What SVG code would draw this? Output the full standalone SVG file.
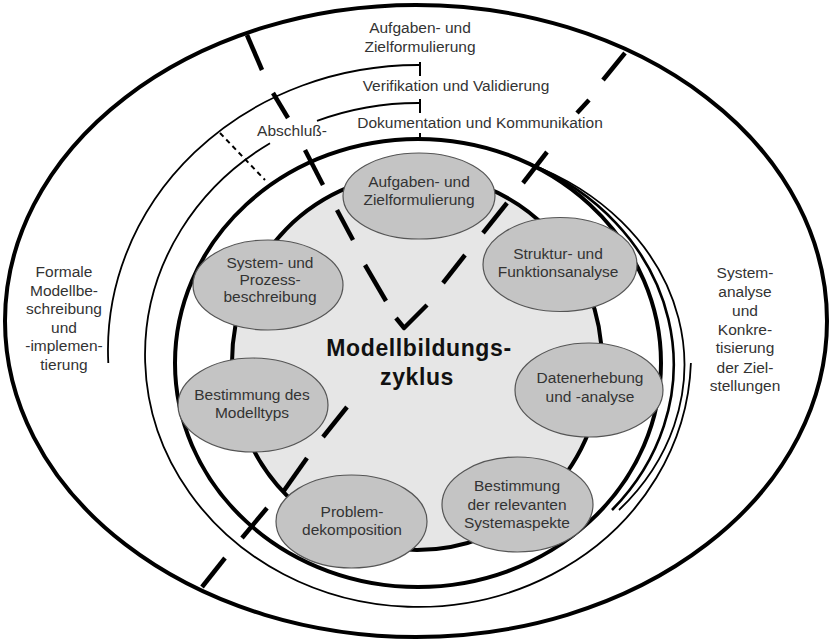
<svg xmlns="http://www.w3.org/2000/svg" width="830" height="642" viewBox="0 0 830 642">
<style>
text { font-family: "Liberation Sans", Arial, sans-serif; fill: #333; }
.lbl { font-size: 15.5px; text-anchor: middle; }
.title { font-size: 23px; font-weight: bold; fill: #111; text-anchor: middle; letter-spacing: 0.6px; }
.node ellipse { fill: #c4c4c4; stroke: #555; stroke-width: 1.2; }
.ring { fill: none; stroke: #000; }
.thick { stroke-width: 4; }
.mid { stroke-width: 2.6; }
.thin { stroke-width: 1.8; }
.tick { stroke: #000; stroke-width: 2; }
.dash { stroke: #000; stroke-width: 4.5; }
</style>
<rect width="830" height="642" fill="#fff"/>

<!-- rings around the cycle -->
<g id="rings">
  <ellipse class="ring thick" cx="416" cy="321" rx="411" ry="316"/>
  <!-- Verifikation und Validierung -->
  <path class="ring thin" d="M420 65 A310 285 0 0 0 108.3 363"/>
  <line class="tick" x1="420" y1="62" x2="420" y2="76"/>
  <!-- Dokumentation und Kommunikation / Abschluss -->
  <path class="ring thin" d="M420 103 A273 252 0 0 0 317 120.9"/>
  <path class="ring thin" d="M270 143.2 A273 252 0 1 0 690.9 363"/>
  <line class="tick" x1="420" y1="99" x2="420" y2="113"/>
  <line x1="220" y1="133" x2="265" y2="180" stroke="#000" stroke-width="2" stroke-dasharray="5 4"/>
  <!-- inner ring -->
  <ellipse class="ring thick" cx="418" cy="363" rx="243" ry="224"/>
  <path class="ring mid" d="M530 164 A252 222 0 0 1 612 510"/>
  <path class="ring thin" d="M530 164 A262 220 0 0 1 619 510"/>
  <line class="tick" x1="420" y1="133" x2="420" y2="140"/>
  <!-- core -->
  <ellipse cx="417" cy="362" rx="185" ry="188" fill="#e6e6e6" stroke="#000" stroke-width="4"/>
</g>

<!-- sector borders -->
<g id="connectors">
  <line class="dash" x1="247" y1="35" x2="262" y2="70"/>
  <line class="dash" x1="273" y1="93" x2="288" y2="118"/>
  <line class="dash" x1="305" y1="150" x2="323" y2="185"/>
  <line class="dash" x1="337" y1="210" x2="353" y2="240"/>
  <line class="dash" x1="365" y1="265" x2="386" y2="301"/>
  <line class="dash" x1="396" y1="318" x2="405" y2="329"/>

  <line class="dash" x1="625" y1="53" x2="603" y2="80"/>
  <line class="dash" x1="589" y1="100" x2="577" y2="113"/>
  <line class="dash" x1="547" y1="152" x2="523" y2="183"/>
  <line class="dash" x1="507" y1="203" x2="483" y2="233"/>
  <line class="dash" x1="465" y1="255" x2="443" y2="283"/>
  <line class="dash" x1="427" y1="305" x2="403" y2="329"/>

  <line class="dash" x1="225" y1="558" x2="202" y2="587"/>
  <line class="dash" x1="267" y1="508" x2="242" y2="538"/>
  <line class="dash" x1="307" y1="458" x2="283" y2="492"/>
  <line class="dash" x1="347" y1="407" x2="323" y2="437"/>
</g>

<!-- ring labels -->
<g id="ring-labels" class="lbl">
  <text x="420" y="33">Aufgaben- und</text>
  <text x="420" y="52">Zielformulierung</text>
  <text x="456" y="91">Verifikation und Validierung</text>
  <text x="480" y="128">Dokumentation und Kommunikation</text>
  <text x="292" y="136">Abschluß-</text>
  <text x="64" y="277">Formale</text>
  <text x="64" y="296">Modellbe-</text>
  <text x="64" y="314">schreibung</text>
  <text x="64" y="333">und</text>
  <text x="64" y="351">-implemen-</text>
  <text x="64" y="370">tierung</text>
  <text x="745" y="278">System-</text>
  <text x="745" y="297">analyse</text>
  <text x="745" y="316">und</text>
  <text x="745" y="335">Konkre-</text>
  <text x="745" y="353">tisierung</text>
  <text x="745" y="373">der Ziel-</text>
  <text x="745" y="391">stellungen</text>
</g>

<g id="title">
  <text class="title" x="419" y="356">Modellbildungs-</text>
  <text class="title" x="417" y="385">zyklus</text>
</g>

<g id="aufgaben" class="node">
  <ellipse cx="419" cy="196" rx="76" ry="43"/>
  <text class="lbl" x="419" y="187">Aufgaben- und</text>
  <text class="lbl" x="419" y="205">Zielformulierung</text>
</g>
<g id="struktur" class="node">
  <ellipse cx="560" cy="264.5" rx="77" ry="47"/>
  <text class="lbl" x="558" y="259">Struktur- und</text>
  <text class="lbl" x="558" y="277">Funktionsanalyse</text>
</g>
<g id="daten" class="node">
  <ellipse cx="589" cy="390" rx="74" ry="47"/>
  <text class="lbl" x="590" y="383">Datenerhebung</text>
  <text class="lbl" x="590" y="402">und -analyse</text>
</g>
<g id="systemaspekte" class="node">
  <ellipse cx="517.5" cy="504.5" rx="75.5" ry="47.5"/>
  <text class="lbl" x="517" y="491">Bestimmung</text>
  <text class="lbl" x="517" y="510">der relevanten</text>
  <text class="lbl" x="517" y="528">Systemaspekte</text>
</g>
<g id="problem" class="node">
  <ellipse cx="351.5" cy="521.5" rx="75.5" ry="46.5"/>
  <text class="lbl" x="352" y="517">Problem-</text>
  <text class="lbl" x="352" y="535">dekomposition</text>
</g>
<g id="modelltyp" class="node">
  <ellipse cx="253" cy="405" rx="75" ry="47"/>
  <text class="lbl" x="252" y="400">Bestimmung des</text>
  <text class="lbl" x="252" y="418">Modelltyps</text>
</g>
<g id="system" class="node">
  <ellipse cx="268" cy="285" rx="75" ry="45"/>
  <text class="lbl" x="270" y="268">System- und</text>
  <text class="lbl" x="270" y="285">Prozess-</text>
  <text class="lbl" x="270" y="302">beschreibung</text>
</g>
</svg>
